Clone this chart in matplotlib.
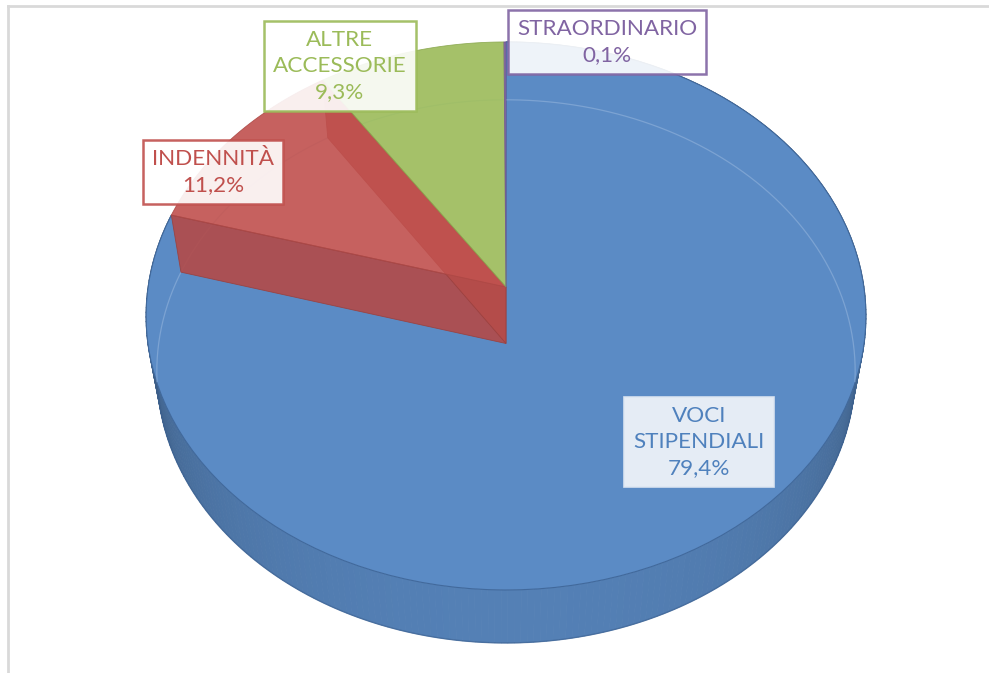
import numpy as np
import matplotlib.pyplot as plt
from matplotlib.patches import Polygon

# data
labels = ["VOCI\nSTIPENDIALI", "INDENNITÀ", "ALTRE\nACCESSORIE", "STRAORDINARIO"]
shares = [79.4, 11.2, 9.3, 0.1]
colors = ["#5B8BC5", "#C0504D", "#9BBB59", "#8064A2"]
text_colors = ["#4F81BD", "#C0504D", "#9BBB59", "#8064A2"]

# camera for the 3d look (pixel space)
CX, CY = 506, 287
F = 2212.0
DIST = 6.18
ELEV = np.radians(49.2)
SE, CE = np.sin(ELEV), np.cos(ELEV)
DEPTH = 0.249

plt.rcParams["font.family"] = ["Lato", "DejaVu Sans"]


def project(phi, z):
    # phi in degrees, clockwise from the back (12 o'clock)
    p = np.radians(phi)
    x = np.sin(p)
    y = np.cos(p)
    v = y * SE + z * CE
    d = DIST + y * CE - z * SE
    return CX + F * x / d, CY - F * v / d


def arc(a0, a1, z, n=120):
    phis = np.linspace(a0, a1, n)
    xs, ys = project(phis, z)
    return list(zip(xs, ys))


def shade(color, k):
    c = np.array(plt.matplotlib.colors.to_rgb(color))
    return tuple(np.clip(c * k, 0, 1))


fig = plt.figure(figsize=(9.89, 6.73), dpi=100)
ax = fig.add_axes([0, 0, 1, 1])
ax.set_xlim(0, 989)
ax.set_ylim(673, 0)
ax.axis("off")

# chart border
ax.plot([8, 989], [6, 6], color="#D9D9D9", lw=2, zorder=0)
ax.plot([8, 8], [6, 673], color="#D9D9D9", lw=2, zorder=0)

total = sum(shares)
bounds = [0]
for s in shares:
    bounds.append(bounds[-1] + s / total * 360)

# outer wall of the big slice, shaded strip by strip
a0, a1 = bounds[0], bounds[1]
steps = np.linspace(a0, a1, 300)
for i in range(len(steps) - 1):
    p0, p1 = steps[i], steps[i + 1]
    top = arc(p0, p1, 0, 3)
    bot = arc(p1, p0, -DEPTH, 3)
    m = np.radians((p0 + p1) / 2)
    f = max(0.0, -np.cos(m))
    k = 0.5 + 0.42 * f ** 0.5
    ax.add_patch(Polygon(top + bot, closed=True, facecolor=shade(colors[0], k),
                         edgecolor=shade(colors[0], k), lw=0.6, zorder=1))
# silhouette line
ax.plot(*zip(*arc(95, 275, -DEPTH)), color="#3A5F8F", lw=1.0, alpha=0.6, zorder=1.5)

# top face of the big slice
top_face = [(CX, CY)] + arc(a0, a1, 0)
ax.add_patch(Polygon(top_face, closed=True, facecolor=colors[0],
                     edgecolor="#41699C", lw=0.8, zorder=2))

# faint bottom edge seen through the top
ax.plot(*zip(*arc(262, 458, -DEPTH)), color="#9DBBE0", lw=0.9, alpha=0.5, zorder=2.2)

# the two middle slices: radial walls (red only) then top faces, semi transparent
BOT = project(0, -DEPTH)
BOT = (CX, CY + 56.5)
z = 3
a0, a1 = bounds[1], bounds[2]
for a, k in [(a0, 0.93), (a1, 0.95)]:
    tx, ty = project(a, 0)
    bx, by = project(a, -DEPTH)
    wall = [(CX, CY), (tx, ty), (bx, by), BOT]
    ax.add_patch(Polygon(wall, closed=True, facecolor=shade(colors[1], k),
                         edgecolor=shade(colors[1], 0.8), lw=0.6, alpha=0.9, zorder=z))
    z += 0.1
for i in range(1, len(shares)):
    a0, a1 = bounds[i], bounds[i + 1]
    face = [(CX, CY)] + arc(a0, a1, 0)
    ax.add_patch(Polygon(face, closed=True, facecolor=colors[i],
                         edgecolor=shade(colors[i], 0.9), lw=0.6, alpha=0.9, zorder=z))
    z += 0.1

# data labels
label_pos = [(699, 442), (213, 172), (340, 66), (607, 42)]
for i in range(len(shares)):
    txt = labels[i] + "\n" + ("%.1f%%" % shares[i]).replace(".", ",")
    if i == 0:
        box = dict(boxstyle="square,pad=0.4", facecolor="#EEF2F8", edgecolor="#DDE6F2",
                   lw=1.2, alpha=0.95)
    else:
        box = dict(boxstyle="square,pad=0.4", facecolor="white", edgecolor=text_colors[i],
                   lw=1.8, alpha=0.9)
    ax.text(label_pos[i][0], label_pos[i][1], txt, ha="center", va="center",
            fontsize=16.2, color=text_colors[i], linespacing=1.35, bbox=box, zorder=10)

fig.savefig("out.png", dpi=100)
